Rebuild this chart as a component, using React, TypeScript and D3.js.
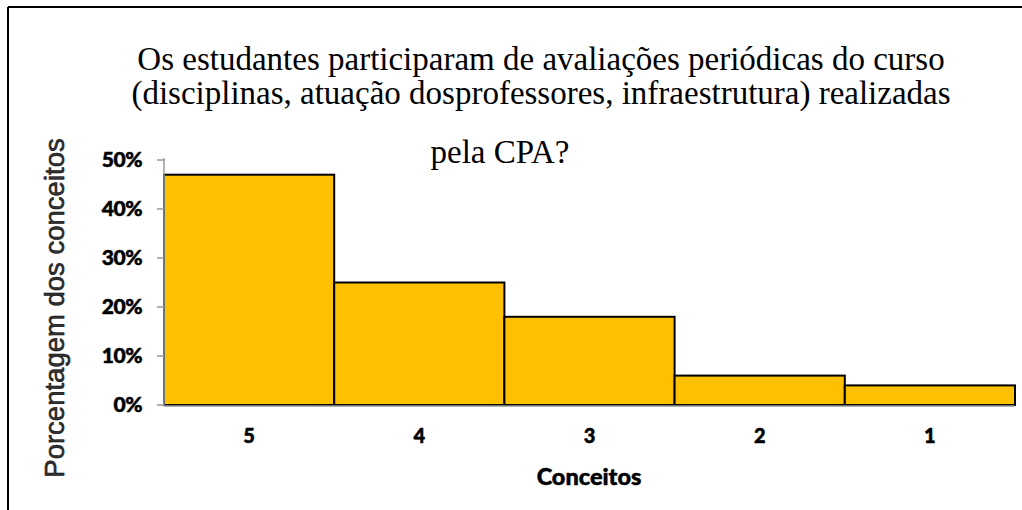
import React from "react";
import * as d3 from "d3";

const categories = ["5", "4", "3", "2", "1"];
const values = [0.47, 0.25, 0.18, 0.06, 0.04];
const yTicks = [0, 0.1, 0.2, 0.3, 0.4, 0.5];
const titleLines = [
  "Os estudantes participaram de avaliações periódicas do curso",
  "(disciplinas, atuação dosprofessores, infraestrutura) realizadas",
  "pela CPA?",
];

export default function App() {
  const W = 1022, H = 510;
  const left = 164, right = 1015, top = 160, bottom = 405;
  const x = d3.scaleBand().domain(categories).range([left, right]).padding(0);
  const y = d3.scaleLinear().domain([0, 0.5]).range([bottom, top]);
  const fmt = d3.format(".0%");
  const tickFont = "Lato, 'Open Sans', sans-serif";
  const titleX = [541, 541, 500];
  const titleY = [70, 104, 163];
  return (
    <svg width={W} height={H} style={{ position: "absolute", left: 0, top: 0 }}>
      <rect x={0} y={0} width={W} height={H} fill="#fff" />
      <line x1={8} y1={7} x2={W} y2={7} stroke="#000" strokeWidth={2} />
      <line x1={8} y1={7} x2={8} y2={H} stroke="#000" strokeWidth={2} />
      {titleLines.map((t, i) => (
        <text key={i} x={titleX[i]} y={titleY[i]} textAnchor="middle"
          fontFamily="'Liberation Serif', 'Times New Roman', serif" fontSize={33} fill="#000">{t}</text>
      ))}
      {categories.map((c, i) => (
        <rect key={c} x={x(c)!} y={y(values[i])} width={x.bandwidth()} height={bottom - y(values[i])}
          fill="#FFC000" stroke="#000" strokeWidth={2} />
      ))}
      <line x1={left} y1={top - 2} x2={left} y2={bottom} stroke="#999" strokeWidth={1.5} />
      <line x1={left} y1={bottom + 1} x2={right} y2={bottom + 1} stroke="#999" strokeWidth={1.5} />
      {yTicks.map((t) => (
        <g key={t}>
          <line x1={left - 7} x2={left} y1={y(t)} y2={y(t)} stroke="#999" strokeWidth={1.5} />
          <text x={142} y={y(t) + 7} textAnchor="end" fontFamily={tickFont} fontWeight={900}
            fontSize={21} fill="#000" stroke="#000" strokeWidth={0.5} letterSpacing={-0.5}>{fmt(t)}</text>
        </g>
      ))}
      {categories.map((c) => (
        <text key={c} x={x(c)! + x.bandwidth() / 2} y={443} textAnchor="middle" fontFamily={tickFont}
          fontWeight={900} fontSize={20} fill="#000" stroke="#000" strokeWidth={0.5}>{c}</text>
      ))}
      <text x={589} y={485} textAnchor="middle" fontFamily={tickFont} fontWeight={900} fontSize={23.5}
        fill="#000" stroke="#000" strokeWidth={0.5}>Conceitos</text>
      <text transform={`translate(64,308) rotate(-90)`} textAnchor="middle"
        fontFamily="'Liberation Sans', Arial, sans-serif" fontSize={27.5} fill="#333" stroke="#000" strokeWidth={0.5}>
        Porcentagem dos conceitos
      </text>
    </svg>
  );
}
